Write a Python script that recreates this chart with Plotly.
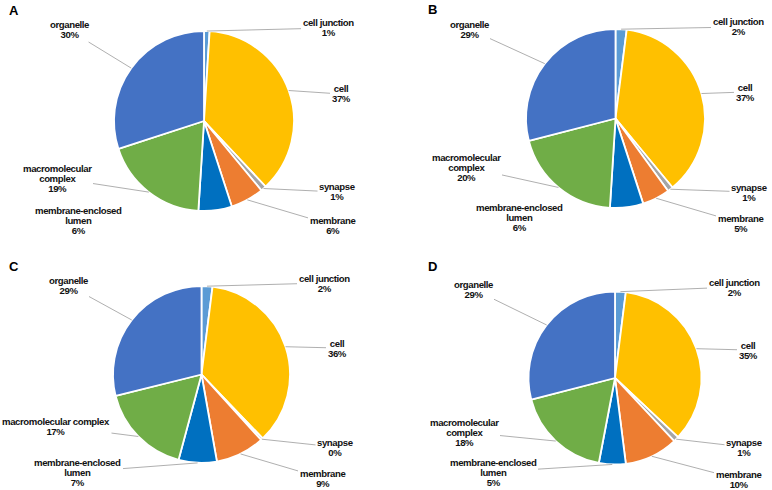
import math
import plotly.graph_objects as go

# ---------------- data ----------------
categories = ["cell junction", "cell", "synapse", "membrane",
              "membrane-enclosed lumen", "macromolecular complex", "organelle"]
values_A = [1, 37, 1, 6, 6, 19, 30]
values_B = [2, 37, 1, 5, 6, 20, 29]
values_C = [2, 36, 0.4, 9, 7, 17, 29]
values_D = [2, 35, 1, 10, 5, 18, 29]
panel_letters = ["A", "B", "C", "D"]

names_two_line = ["cell junction", "cell", "synapse", "membrane",
                  "membrane-enclosed<br>lumen", "macromolecular<br>complex", "organelle"]
names_C = ["cell junction", "cell", "synapse", "membrane",
           "membrane-enclosed<br>lumen", "macromolecular complex", "organelle"]

colors = ["#5B9BD5", "#FFC000", "#A5A5A5", "#ED7D31", "#0070C0", "#70AD47", "#4472C4"]

# ---------------- layout (pixels) ----------------
W, H = 772, 490
panels = [
    dict(vals=values_A, names=names_two_line, cx=204, cy=121, r=90, letter=(14, 10),
         labels=[(328, 28), (341, 94), (337, 192), (332, 225), (78, 220), (57, 178), (69, 30)],
         lines=[1, 1, 1, 1, 0, 1, 1]),
    dict(vals=values_B, names=names_two_line, cx=615.5, cy=118.5, r=89.5, letter=(432, 9),
         labels=[(738, 27), (745, 92), (749, 192), (740, 223), (519, 217), (466, 167), (469, 29)],
         lines=[1, 1, 1, 1, 0, 1, 1]),
    dict(vals=values_C, names=names_C, cx=201.5, cy=374.5, r=88.5, letter=(14, 266),
         labels=[(324, 283), (337, 348), (335, 447), (322, 478), (78, 472), (56, 426), (68, 285)],
         lines=[1, 1, 1, 1, 1, 1, 1]),
    dict(vals=values_D, names=names_two_line, cx=615, cy=378, r=86.5, letter=(432, 266),
         labels=[(734, 287), (748, 350), (744, 447), (738, 479), (493, 472), (464, 432), (473, 289)],
         lines=[1, 1, 1, 1, 1, 1, 1]),
]

TEXT_PX = 9.6         # glyph size of label text
LETTER_SP = -0.4      # tight letter spacing of the label text
LINE_PX = 10          # distance between label lines
label_font = dict(family="Liberation Sans, Arial, sans-serif", size=LINE_PX / 1.3,
                  color="#111111", weight="bold")
letter_font = dict(family="Liberation Sans, Arial, sans-serif", size=13,
                   color="#000000", weight="bold")


def label_html(lines):
    return "<br>".join(
        f'<span style="font-size:{TEXT_PX}px;letter-spacing:{LETTER_SP}px">{ln}</span>'
        for ln in lines)


fig = go.Figure()
annotations = []

for idx, p in enumerate(panels):
    cx, cy, r = p["cx"], p["cy"], p["r"]
    fig.add_trace(go.Pie(
        values=p["vals"], labels=categories, sort=False, direction="clockwise",
        rotation=0, textinfo="none", hoverinfo="label+value",
        marker=dict(colors=colors, line=dict(color="white", width=1.8)),
        domain=dict(x=[(cx - r) / W, (cx + r) / W], y=[1 - (cy + r) / H, 1 - (cy - r) / H]),
        showlegend=False,
    ))
    total = sum(p["vals"])
    cum = 0
    for i, v in enumerate(p["vals"]):
        mid = 2 * math.pi * (cum + v / 2) / total
        cum += v
        hx = cx + r * math.sin(mid)
        hy = cy - r * math.cos(mid)
        lx, ly = p["labels"][i]
        lines = p["names"][i].split("<br>") + [f"{round(v):d}%"]
        text = label_html(lines)
        if p["lines"][i]:
            annotations.append(dict(
                x=hx / W, y=1 - hy / H, xref="paper", yref="paper",
                ax=lx - hx, ay=ly - hy, axref="pixel", ayref="pixel",
                text=text, showarrow=True, arrowhead=0, arrowwidth=0.9,
                arrowcolor="#A6A6A6", standoff=0, startstandoff=0,
                font=label_font, align="center",
            ))
        else:
            annotations.append(dict(
                x=lx / W, y=1 - ly / H, xref="paper", yref="paper",
                text=text, showarrow=False, font=label_font, align="center",
                xanchor="center", yanchor="middle",
            ))
    letter_x, letter_y = p["letter"]
    annotations.append(dict(
        x=letter_x / W, y=1 - letter_y / H, xref="paper", yref="paper",
        text=panel_letters[idx], showarrow=False, font=letter_font,
        xanchor="center", yanchor="middle",
    ))

fig.update_layout(
    width=W, height=H, margin=dict(l=0, r=0, t=0, b=0),
    paper_bgcolor="white", plot_bgcolor="white",
    annotations=annotations,
)

fig.write_html("out.html", config={"displayModeBar": False},
               post_script="document.body.style.margin='0px';")
